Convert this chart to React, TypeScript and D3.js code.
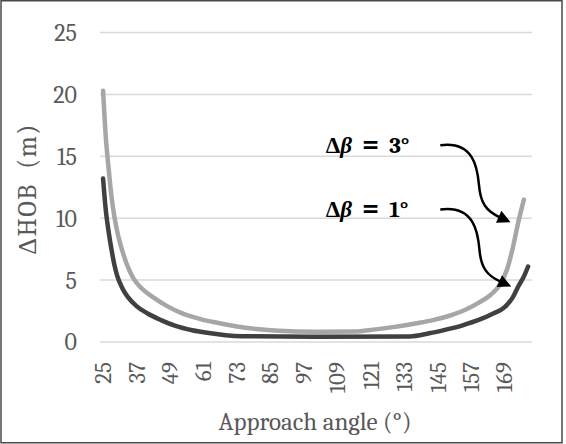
import { useMemo } from "react";
import * as d3 from "d3";

const WIDTH = 566;
const HEIGHT = 444;

// approach angle (deg) and dHOB (m)
const angles3 = [25, 26, 27, 28, 29, 30, 32, 34, 36, 39, 43, 48, 53, 60, 66, 73, 80, 88, 100, 115, 122, 129, 137, 143, 149, 155, 160, 164, 167, 170, 172, 174, 176];
const hob3 = [20.3, 16.5, 14.0, 11.8, 10.2, 9.0, 7.3, 6.0, 5.1, 4.3, 3.6, 2.9, 2.35, 1.85, 1.55, 1.25, 1.05, 0.9, 0.82, 0.85, 1.0, 1.2, 1.5, 1.75, 2.1, 2.6, 3.2, 3.8, 4.5, 5.9, 7.6, 9.7, 11.5];

const angles1 = [25, 26, 27, 28, 29, 30, 32, 34, 37, 41, 46, 51, 57, 63, 69, 75, 100, 135, 142, 148, 154, 160, 165, 169, 172, 174, 176, 177.5];
const hob1 = [13.2, 10.6, 8.9, 7.5, 6.3, 5.4, 4.3, 3.6, 2.9, 2.3, 1.75, 1.3, 0.95, 0.72, 0.55, 0.47, 0.42, 0.45, 0.7, 1.0, 1.35, 1.8, 2.3, 2.8, 3.6, 4.5, 5.3, 6.1];

const xTicks = [25, 37, 49, 61, 73, 85, 97, 109, 121, 133, 145, 157, 169];
const yTicks = [0, 5, 10, 15, 20, 25];

const deltaBeta = ["3°", "1°"];

const FONT = "Cambria, Caladea, 'Liberation Serif', 'Times New Roman', serif";
const GREY = "#595959";

export default function App() {
  const x = d3.scaleLinear().domain([23.9, 178.9]).range([100, 532]);
  const y = d3.scaleLinear().domain([0, 25]).range([342, 32.5]);

  const line = d3
    .line<[number, number]>()
    .x((d) => x(d[0]))
    .y((d) => y(d[1]))
    .curve(d3.curveMonotoneX);

  const path3 = useMemo(() => line(angles3.map((a, i) => [a, hob3[i]])), []);
  const path1 = useMemo(() => line(angles1.map((a, i) => [a, hob1[i]])), []);

  // annotation anchors in data units: text start, arrow start, arrow tip
  const notes = [
    { text: deltaBeta[0], tx: 104.9, ty: 15.3, sx: 146, sy: 15.9, ex: 172.7, ey: 9.7 },
    { text: deltaBeta[1], tx: 104.9, ty: 10.1, sx: 146, sy: 10.7, ex: 173, ey: 4.5 },
  ];

  const arrow = (x0: number, y0: number, x1: number, y1: number) => {
    const dx = x1 - x0;
    const dy = y1 - y0;
    const p = (fx: number, fy: number) => `${x0 + fx * dx},${y0 + fy * dy}`;
    return `M${x0},${y0} C${p(0.45, -0.06)} ${p(0.5, 0.3)} ${p(0.52, 0.52)} C${p(0.54, 0.76)} ${p(0.62, 0.86)} ${p(0.8, 0.94)}`;
  };

  return (
    <svg
      width={WIDTH}
      height={HEIGHT}
      style={{ position: "absolute", left: 0, top: 0, background: "#fff" }}
    >
      <defs>
        <marker id="head" viewBox="0 0 10 10" refX="1" refY="5" markerWidth="6" markerHeight="5.2" orient="auto" markerUnits="strokeWidth">
          <path d="M0,0 L10,5 L0,10 Z" fill="#000" />
        </marker>
      </defs>
      <rect x={1} y={0.75} width={561} height={442} fill="#fff" stroke="#4a4a4a" strokeWidth={1.5} />

      {yTicks.map((t) => (
        <g key={t}>
          <line x1={100} x2={532} y1={y(t)} y2={y(t)} stroke="#d9d9d9" strokeWidth={1.5} />
          <text x={77} y={y(t)} dy="0.35em" textAnchor="end" fontFamily={FONT} fontSize={24} fill={GREY}>
            {t}
          </text>
        </g>
      ))}

      {xTicks.map((t) => (
        <text
          key={t}
          transform={`translate(${x(t)},362) rotate(-90)`}
          dy="0.35em"
          textAnchor="end"
          fontFamily={FONT}
          fontSize={23}
          fill={GREY}
        >
          {t}
        </text>
      ))}

      <path d={path3 ?? ""} fill="none" stroke="#a6a6a6" strokeWidth={4.5} strokeLinecap="round" strokeLinejoin="round" />
      <path d={path1 ?? ""} fill="none" stroke="#404040" strokeWidth={4.5} strokeLinecap="round" strokeLinejoin="round" />

      {notes.map((n) => (
        <g key={n.text}>
          <text x={x(n.tx)} y={y(n.ty)} fontFamily={FONT} fontSize={23} fontWeight="bold" fill="#000">
            <tspan>Δ</tspan>
            <tspan fontStyle="italic">β</tspan>
            <tspan dx={10} fontSize={29}>=</tspan>
            <tspan dx={10}>{n.text}</tspan>
          </text>
          <path
            d={arrow(x(n.sx), y(n.sy), x(n.ex), y(n.ey))}
            fill="none"
            stroke="#000"
            strokeWidth={2.5}
            markerEnd="url(#head)"
          />
        </g>
      ))}

      <text
        transform="translate(27,189) rotate(-90)"
        textAnchor="middle"
        dy="0.35em"
        fontFamily={FONT}
        fontSize={26}
        letterSpacing={1.5}
        fill={GREY}
        style={{ whiteSpace: "pre" }}
      >
        {"ΔHOB  (m)"}
      </text>
      <text x={315} y={430} textAnchor="middle" fontFamily={FONT} fontSize={25} fill={GREY}>
        Approach angle (°)
      </text>
    </svg>
  );
}
